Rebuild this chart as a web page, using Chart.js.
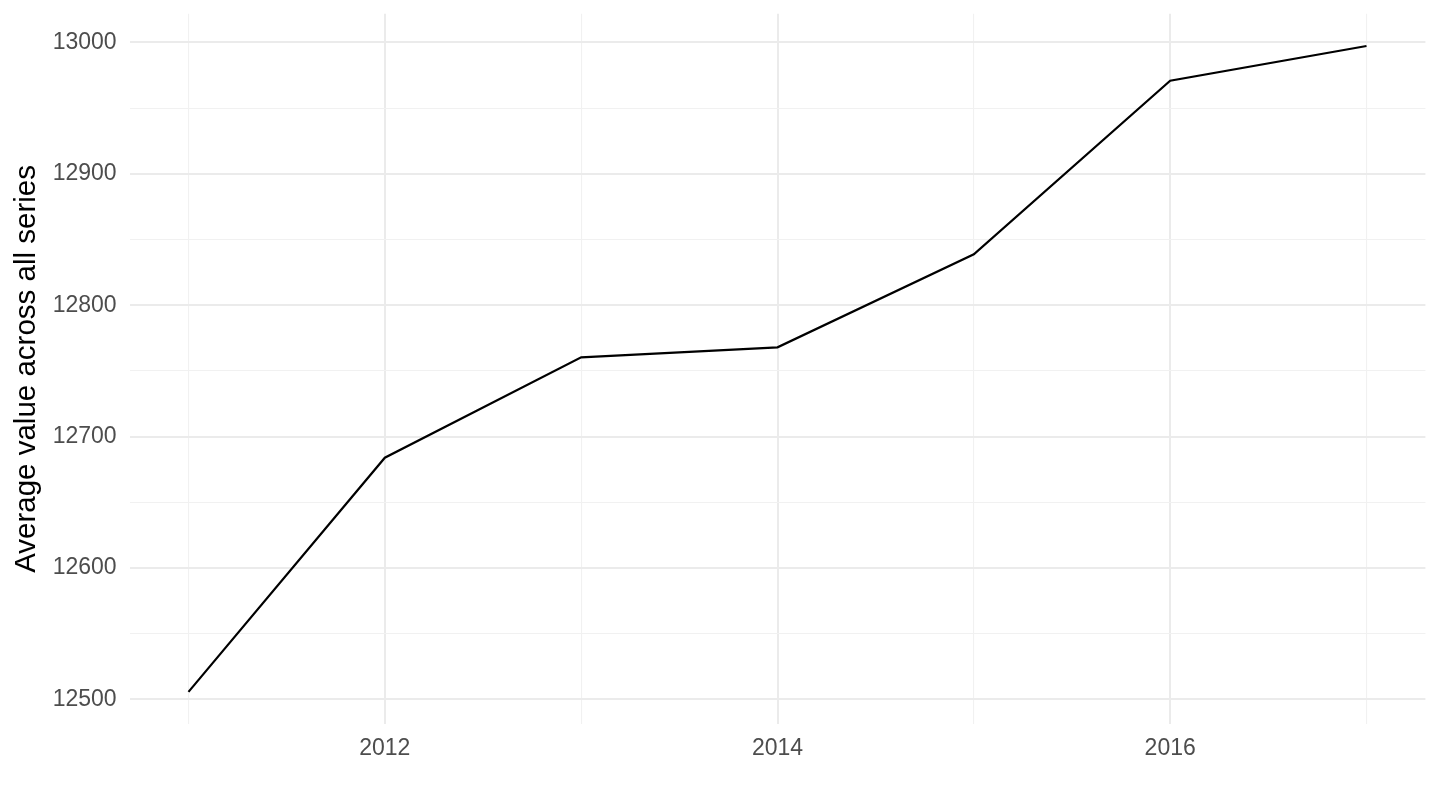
<!DOCTYPE html>
<html>
<head>
<meta charset="utf-8">
<script src="https://cdn.jsdelivr.net/npm/chart.js@4"></script>
<style>
  html, body { margin: 0; padding: 0; background: #ffffff; }
  #wrap { width: 1440px; height: 810px; }
</style>
</head>
<body>
<div id="wrap"><canvas id="c" width="1440" height="810"></canvas></div>
<script>
const years = [2011, 2012, 2013, 2014, 2015, 2016, 2017];
const avgValues = [12505.8, 12684.0, 12760.4, 12768.0, 12838.8, 12970.9, 12997.3];

const xTicks = [2011, 2012, 2013, 2014, 2015, 2016, 2017];
const xLabelled = [2012, 2014, 2016];
const yTicks = [12500, 12550, 12600, 12650, 12700, 12750, 12800, 12850, 12900, 12950, 13000];
const yLabelled = [12500, 12600, 12700, 12800, 12900, 13000];

const yTitle = 'Average value across all series';

const FONT = '"Liberation Sans", Arial, Helvetica, sans-serif';
const MAJOR_COLOR = '#ebebeb';
const MINOR_COLOR = '#f1f1f1';

function gridColor(labelled) {
  return (ctx) => (ctx.tick && labelled.includes(ctx.tick.value)) ? MAJOR_COLOR : MINOR_COLOR;
}
function gridWidth(labelled) {
  return (ctx) => (ctx.tick && labelled.includes(ctx.tick.value)) ? 2 : 1.1;
}
function clearPadding(axis) {
  axis.paddingTop = 0; axis.paddingBottom = 0;
  axis.paddingLeft = 0; axis.paddingRight = 0;
}

new Chart(document.getElementById('c'), {
  type: 'line',
  data: {
    datasets: [{
      data: years.map((y, i) => ({ x: y, y: avgValues[i] })),
      borderColor: '#000000',
      borderWidth: 2.2,
      pointRadius: 0,
      tension: 0,
      fill: false
    }]
  },
  options: {
    responsive: false,
    animation: false,
    devicePixelRatio: 1,
    layout: { padding: { top: 13.7, right: 14.6, left: 0, bottom: 0 } },
    plugins: { legend: { display: false }, tooltip: { enabled: false } },
    scales: {
      x: {
        type: 'linear',
        min: 2010.7,
        max: 2017.3,
        afterBuildTicks: (axis) => { axis.ticks = xTicks.map(v => ({ value: v })); },
        afterFit: (axis) => { axis.height = 85.8; clearPadding(axis); },
        border: { display: false },
        grid: { drawTicks: false, color: gridColor(xLabelled), lineWidth: gridWidth(xLabelled) },
        ticks: {
          autoSkip: false,
          maxRotation: 0,
          padding: 11,
          color: '#4d4d4d',
          font: { family: FONT, size: 23 },
          callback: (v) => xLabelled.includes(v) ? String(v) : ''
        }
      },
      y: {
        type: 'linear',
        min: 12481.2,
        max: 13021.9,
        afterBuildTicks: (axis) => { axis.ticks = yTicks.map(v => ({ value: v })); },
        afterFit: (axis) => { axis.width = 129.6; clearPadding(axis); },
        border: { display: false },
        grid: { drawTicks: false, color: gridColor(yLabelled), lineWidth: gridWidth(yLabelled) },
        title: {
          display: true,
          text: yTitle,
          color: '#000000',
          font: { family: FONT, size: 29.5 },
          padding: { top: 9, bottom: 0 }
        },
        ticks: {
          autoSkip: false,
          padding: 13,
          color: '#4d4d4d',
          font: { family: FONT, size: 23 },
          callback: (v) => yLabelled.includes(v) ? String(v) : ''
        }
      }
    }
  }
});
</script>
</body>
</html>
